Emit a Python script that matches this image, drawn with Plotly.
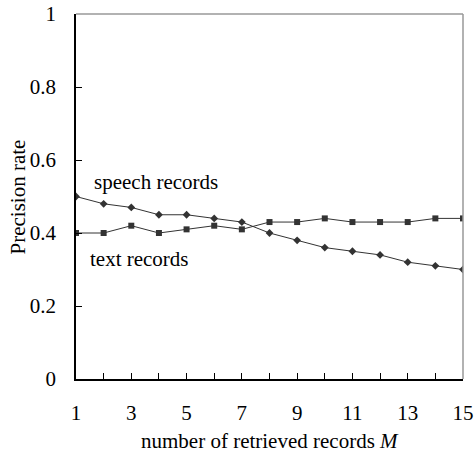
import plotly.graph_objects as go

M = list(range(1, 16))
speech = [0.50, 0.48, 0.47, 0.45, 0.45, 0.44, 0.43, 0.40, 0.38, 0.36, 0.35, 0.34, 0.32, 0.31, 0.30]
text = [0.40, 0.40, 0.42, 0.40, 0.41, 0.42, 0.41, 0.43, 0.43, 0.44, 0.43, 0.43, 0.43, 0.44, 0.44]
x_ticktext = [str(v) if v % 2 == 1 else "" for v in M]
y_ticks = [0, 0.2, 0.4, 0.6, 0.8, 1]
y_ticktext = ["0", "0.2", "0.4", "0.6", "0.8", "1"]

FONT = "Liberation Serif, Times New Roman, serif"
FS = 21

fig = go.Figure()
fig.add_trace(go.Scatter(x=M, y=speech, mode="lines+markers", name="speech records",
                         line=dict(color="#333333", width=1),
                         marker=dict(symbol="diamond", size=6, color="#333333")))
fig.add_trace(go.Scatter(x=M, y=text, mode="lines+markers", name="text records",
                         line=dict(color="#333333", width=1),
                         marker=dict(symbol="square", size=6, color="#333333")))

fig.add_annotation(x=3.9, y=0.54, text="speech records", showarrow=False,
                   font=dict(family=FONT, size=FS, color="black"))
fig.add_annotation(x=3.3, y=0.33, text="text records", showarrow=False,
                   font=dict(family=FONT, size=FS, color="black"))

# gray top and right borders
fig.add_shape(type="line", xref="paper", yref="paper", x0=0, x1=1, y0=1, y1=1,
              line=dict(color="#999999", width=1.5))
fig.add_shape(type="line", xref="paper", yref="paper", x0=1, x1=1, y0=0, y1=1,
              line=dict(color="#999999", width=1.5))

fig.add_annotation(xref="paper", yref="paper", x=0.5, y=-0.17, yanchor="middle",
                   text="number of retrieved records <i>M</i>",
                   showarrow=False, font=dict(family=FONT, size=FS, color="black"))
fig.add_annotation(xref="paper", yref="paper", x=-0.15, xanchor="center", y=0.5, text="Precision rate",
                   textangle=-90, showarrow=False, font=dict(family=FONT, size=FS, color="black"))

fig.update_layout(
    width=476, height=454,
    margin=dict(l=76, r=13, t=14, b=75, autoexpand=False),
    plot_bgcolor="white", paper_bgcolor="white",
    showlegend=False,
    font=dict(family=FONT, size=FS, color="black"),
    xaxis=dict(range=[1, 15], tickmode="array", tickvals=M, ticktext=x_ticktext,
               ticks="inside", ticklen=6, tickcolor="black", showgrid=False, zeroline=False,
               showline=True, linecolor="black", linewidth=1.5, ticklabelstandoff=14,
               automargin=False, tickfont=dict(family=FONT, size=FS)),
    yaxis=dict(range=[0, 1], tickmode="array", tickvals=y_ticks, ticktext=y_ticktext,
               ticks="inside", ticklen=6, tickcolor="black", showgrid=False, zeroline=False,
               showline=True, linecolor="black", linewidth=1.5, ticklabelstandoff=14,
               automargin=False, tickfont=dict(family=FONT, size=FS)),
)

fig.write_html("out.html", config={"displayModeBar": False},
               post_script="document.body.style.margin='0';document.body.style.padding='0';")
